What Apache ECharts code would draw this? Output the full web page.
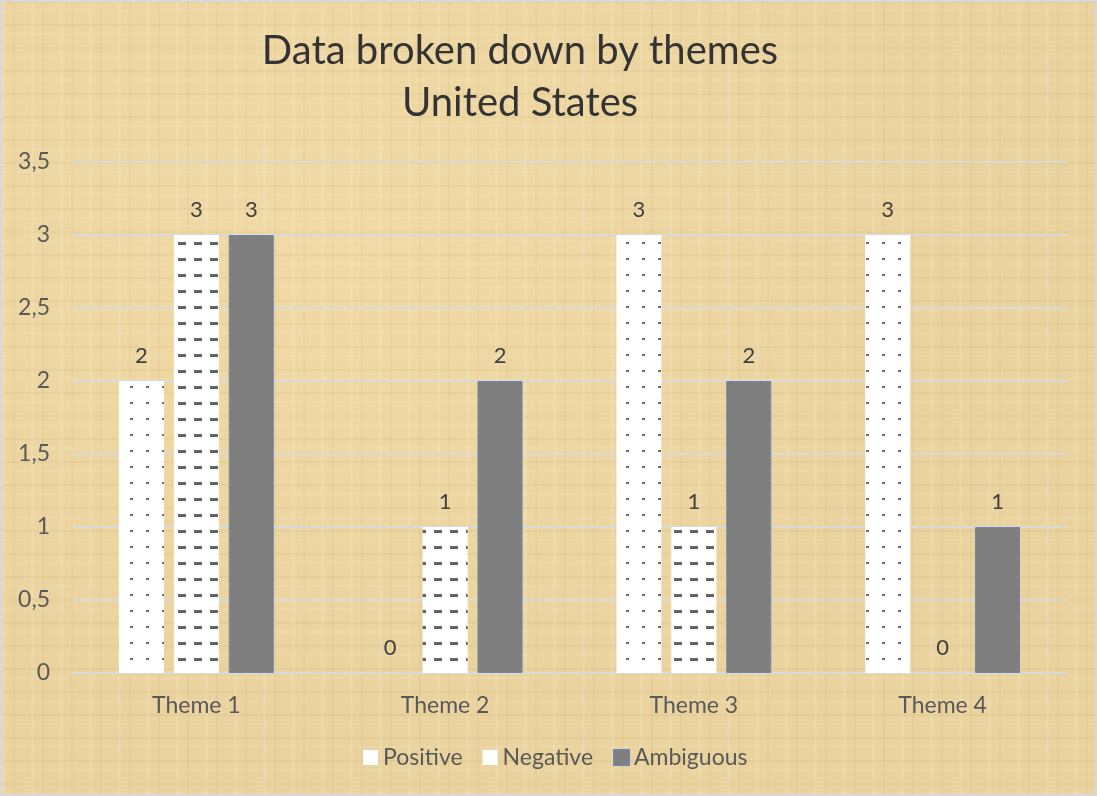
<!DOCTYPE html>
<html>
<head>
<meta charset="utf-8">
<script src="https://cdn.jsdelivr.net/npm/echarts@6/dist/echarts.min.js"></script>
<style>
  html, body { margin: 0; padding: 0; }
  #main {
    width: 1097px; height: 796px;
    box-sizing: border-box;
    border: 2px solid #d9d9d9;
    background-color: #ead39e;
    background-image:
      repeating-linear-gradient(90deg, rgba(255,255,255,0.10) 0 3px, rgba(0,0,0,0) 3px 11px, rgba(150,110,50,0.05) 11px 13px, rgba(0,0,0,0) 13px 29px),
      repeating-linear-gradient(0deg, rgba(255,255,255,0.08) 0 2px, rgba(0,0,0,0) 2px 9px, rgba(150,110,50,0.06) 9px 11px, rgba(0,0,0,0) 11px 23px),
      radial-gradient(ellipse at 30% 30%, rgba(245,222,170,0.6), rgba(0,0,0,0) 60%);
  }
</style>
</head>
<body>
<div id="main"></div>
<script>
var categories = ['Theme 1', 'Theme 2', 'Theme 3', 'Theme 4'];
var positive = [2, 0, 3, 3];
var negative = [3, 1, 1, 0];
var ambiguous = [3, 2, 2, 1];

var chartDom = document.getElementById('main');
var myChart = echarts.init(chartDom);
var option;

var labelStyle = {
  show: true,
  position: 'top',
  distance: 14,
  color: '#404040',
  fontSize: 22,
  fontFamily: 'Lato'
};

option = {
  backgroundColor: 'transparent',
  title: {
    text: 'Data broken down by themes\nUnited States',
    left: 513,
    textAlign: 'center',
    top: 18,
    textStyle: {
      color: '#333333',
      fontSize: 40,
      fontWeight: 'normal',
      fontFamily: 'Lato',
      lineHeight: 52
    }
  },
  legend: {
    data: [
      { name: 'Positive', itemStyle: { color: '#ffffff', decal: 'none' } },
      { name: 'Negative', itemStyle: { color: '#ffffff', decal: 'none' } },
      { name: 'Ambiguous', itemStyle: { color: '#7f7f7f' } }
    ],
    bottom: 20,
    left: 356,
    icon: 'rect',
    itemWidth: 15,
    itemHeight: 15,
    itemGap: 20,
    textStyle: { color: '#595959', fontSize: 23, fontFamily: 'Lato' }
  },
  grid: {
    left: 70,
    right: 28,
    top: 160,
    bottom: 121
  },
  xAxis: {
    type: 'category',
    data: categories,
    axisLine: { lineStyle: { color: '#d9d9d9', width: 2 } },
    axisTick: { show: false },
    axisLabel: { color: '#595959', fontSize: 23, fontFamily: 'Lato', margin: 21 }
  },
  yAxis: {
    type: 'value',
    min: 0,
    max: 3.5,
    interval: 0.5,
    axisLine: { show: false },
    axisTick: { show: false },
    splitLine: { lineStyle: { color: '#d9d9d9', width: 2 } },
    axisLabel: {
      color: '#595959',
      fontSize: 23,
      fontFamily: 'Lato',
      margin: 22,
      formatter: function (v) { return String(v).replace('.', ','); }
    }
  },
  series: [
    {
      name: 'Positive',
      type: 'bar',
      data: positive,
      barWidth: 45,
      barGap: '22%',
      itemStyle: {
        color: '#ffffff',
        decal: {
          symbol: 'rect',
          color: 'rgba(60,60,60,0.75)',
          symbolSize: 1,
          dashArrayX: [[3, 13]],
          dashArrayY: [2, 14],
          rotation: 0
        }
      },
      label: labelStyle
    },
    {
      name: 'Negative',
      type: 'bar',
      data: negative,
      barWidth: 45,
      barGap: '22%',
      itemStyle: {
        color: '#ffffff',
        decal: {
          symbol: 'rect',
          color: 'rgba(60,60,60,0.8)',
          symbolSize: 1,
          dashArrayX: [[8, 8]],
          dashArrayY: [3, 13],
          rotation: 0
        }
      },
      label: labelStyle
    },
    {
      name: 'Ambiguous',
      type: 'bar',
      data: ambiguous,
      barWidth: 45,
      barGap: '22%',
      itemStyle: {
        color: '#7f7f7f',
        borderColor: '#6f86a8',
        borderWidth: 1
      },
      label: labelStyle
    }
  ]
};

myChart.setOption(option);
</script>
</body>
</html>
